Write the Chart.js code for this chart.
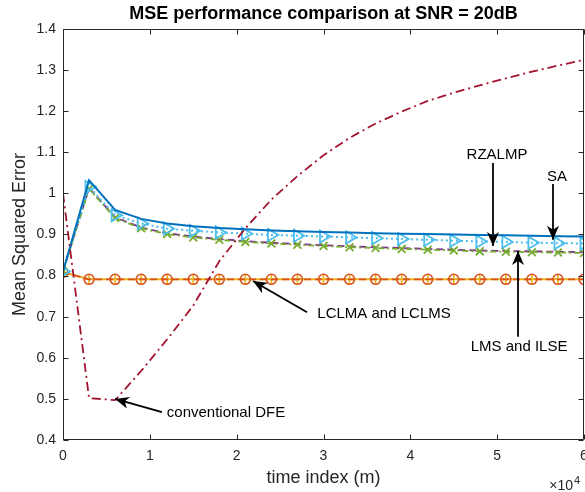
<!DOCTYPE html>
<html>
<head>
<meta charset="utf-8">
<script src="https://cdn.jsdelivr.net/npm/chart.js@4"></script>
<style>
html, body { margin: 0; padding: 0; background: #fff; }
</style>
</head>
<body>
<canvas id="mseChart" width="585" height="492"></canvas>
<script>
// time index (m), one point every 3000 samples
const timeIndex = [0, 3000, 6000, 9000, 12000, 15000, 18000, 21000, 24000, 27000, 30000,
                   33000, 36000, 39000, 42000, 45000, 48000, 51000, 54000, 57000, 60000];

// MSE curves
const sa     = [0.810, 1.032, 0.960, 0.938, 0.927, 0.920, 0.916, 0.913, 0.910, 0.908, 0.906,
                0.905, 0.903, 0.902, 0.901, 0.900, 0.899, 0.898, 0.897, 0.896, 0.895];
const rzalmp = [0.810, 1.016, 0.947, 0.927, 0.914, 0.909, 0.905, 0.902, 0.899, 0.897, 0.895,
                0.893, 0.891, 0.889, 0.887, 0.885, 0.883, 0.882, 0.880, 0.879, 0.878];
const lms    = [0.810, 1.013, 0.942, 0.917, 0.903, 0.895, 0.889, 0.884, 0.880, 0.877, 0.874,
                0.871, 0.869, 0.867, 0.865, 0.863, 0.861, 0.860, 0.859, 0.858, 0.857];
const ilse   = [0.810, 1.011, 0.940, 0.915, 0.901, 0.893, 0.887, 0.882, 0.878, 0.875, 0.872,
                0.869, 0.867, 0.865, 0.863, 0.861, 0.859, 0.858, 0.857, 0.856, 0.855];
const lclma  = [0.808, 0.791, 0.791, 0.791, 0.791, 0.791, 0.791, 0.791, 0.791, 0.791, 0.791,
                0.791, 0.791, 0.791, 0.791, 0.791, 0.791, 0.791, 0.791, 0.791, 0.791];
const lclms  = [0.808, 0.791, 0.791, 0.791, 0.791, 0.791, 0.791, 0.791, 0.791, 0.791, 0.791,
                0.791, 0.791, 0.791, 0.791, 0.791, 0.791, 0.791, 0.791, 0.791, 0.791];
const dfe    = [1.000, 0.502, 0.497, 0.568, 0.645, 0.727, 0.835, 0.915, 0.985, 1.042, 1.093,
                1.135, 1.170, 1.199, 1.225, 1.245, 1.263, 1.280, 1.296, 1.311, 1.325];

// axis tick values
const xTicks = [0, 10000, 20000, 30000, 40000, 50000, 60000];
const yTicks = [0.4, 0.5, 0.6, 0.7, 0.8, 0.9, 1.0, 1.1, 1.2, 1.3, 1.4];

// text arrows (data coordinates)
const notes = [
    { text: 'RZALMP', at: [49980, 1.093], from: [49520, 1.074], to: [49520, 0.872] },
    { text: 'SA', at: [56890, 1.040], from: [56430, 1.023], to: [56430, 0.887] },
    { text: 'LMS and ILSE', at: [52520, 0.626], from: [52400, 0.651], to: [52400, 0.860] },
    { text: 'LCLMA and LCLMS', at: [36970, 0.707], from: [28100, 0.711], to: [21880, 0.787] },
    { text: 'conventional DFE', at: [18770, 0.466], from: [11400, 0.468], to: [5990, 0.500] }
];

const FONT = "'Liberation Sans', Arial, Helvetica, sans-serif";
const AXIS = '#262626';

function pts(arr) {
    return timeIndex.map((t, i) => ({ x: t, y: arr[i] }));
}

function arrowHead(ctx, x0, y0, x1, y1) {
    const ang = Math.atan2(y1 - y0, x1 - x0);
    const len = 14, half = 6, back = 10;
    ctx.save();
    ctx.translate(x1, y1);
    ctx.rotate(ang);
    ctx.beginPath();
    ctx.moveTo(0, 0);
    ctx.lineTo(-len, -half);
    ctx.lineTo(-back, 0);
    ctx.lineTo(-len, half);
    ctx.closePath();
    ctx.fill();
    ctx.restore();
}

// box, inward ticks, x tick labels, title, annotations
const decorations = {
    id: 'decorations',
    afterDraw(chart) {
        const ctx = chart.ctx;
        const a = chart.chartArea;
        const xs = chart.scales.x, ys = chart.scales.y;
        const L = Math.round(a.left) + 0.5, R = Math.round(a.right) - 0.5;
        const T = Math.round(a.top) + 0.5, B = Math.round(a.bottom) - 0.5;
        ctx.save();
        ctx.strokeStyle = AXIS;
        ctx.lineWidth = 1;
        ctx.beginPath();
        ctx.rect(L, T, R - L, B - T);
        xTicks.forEach(v => {
            const px = Math.round(xs.getPixelForValue(v)) + 0.5;
            ctx.moveTo(px, B); ctx.lineTo(px, B - 5);
            ctx.moveTo(px, T); ctx.lineTo(px, T + 5);
        });
        yTicks.forEach(v => {
            const py = Math.round(ys.getPixelForValue(v)) + 0.5;
            ctx.moveTo(L, py); ctx.lineTo(L + 5, py);
            ctx.moveTo(R, py); ctx.lineTo(R - 5, py);
        });
        ctx.stroke();

        // x tick labels (drawn here so the last one may run off the canvas)
        ctx.fillStyle = AXIS;
        ctx.font = '14px ' + FONT;
        ctx.textAlign = 'center';
        ctx.textBaseline = 'middle';
        xTicks.forEach(v => {
            ctx.fillText(String(v / 10000), xs.getPixelForValue(v), 456);
        });

        // title
        ctx.fillStyle = '#000';
        ctx.font = 'bold 18px ' + FONT;
        ctx.fillText('MSE performance comparison at SNR = 20dB', (a.left + a.right) / 2, 14);

        // x10^4 exponent
        ctx.fillStyle = AXIS;
        ctx.textAlign = 'right';
        ctx.textBaseline = 'alphabetic';
        ctx.font = '14px ' + FONT;
        ctx.fillText('\u00d710', 573, 490);
        ctx.textAlign = 'left';
        ctx.font = '11px ' + FONT;
        ctx.fillText('4', 574, 484);

        // arrows and labels
        ctx.strokeStyle = '#000';
        ctx.fillStyle = '#000';
        ctx.lineWidth = 1.8;
        notes.forEach(n => {
            const x0 = xs.getPixelForValue(n.from[0]), y0 = ys.getPixelForValue(n.from[1]);
            const x1 = xs.getPixelForValue(n.to[0]), y1 = ys.getPixelForValue(n.to[1]);
            ctx.beginPath();
            ctx.moveTo(x0, y0);
            ctx.lineTo(x1, y1);
            ctx.stroke();
            arrowHead(ctx, x0, y0, x1, y1);
            ctx.font = '15px ' + FONT;
            ctx.textAlign = 'center';
            ctx.textBaseline = 'middle';
            ctx.fillText(n.text, xs.getPixelForValue(n.at[0]), ys.getPixelForValue(n.at[1]));
        });
        ctx.restore();
    }
};

const ctxMse = document.getElementById('mseChart').getContext('2d');
const mseChart = new Chart(ctxMse, {
    type: 'line',
    data: {
        datasets: [
            {
                label: 'conventional DFE',
                data: pts(dfe),
                borderColor: '#A2142F',
                borderWidth: 1.8,
                borderDash: [9, 4, 2, 4],
                pointRadius: 0
            },
            {
                label: 'SA',
                data: pts(sa),
                borderColor: '#0072BD',
                borderWidth: 2,
                pointRadius: 0
            },
            {
                label: 'RZALMP',
                data: pts(rzalmp),
                borderColor: '#4DBEEE',
                borderWidth: 2,
                borderDash: [2, 3],
                pointStyle: 'triangle',
                pointRotation: 90,
                pointRadius: 7,
                pointBorderWidth: 1.8,
                pointBorderColor: '#4DBEEE',
                pointBackgroundColor: 'rgba(0,0,0,0)'
            },
            {
                label: 'ILSE',
                data: pts(ilse),
                borderColor: '#77AC30',
                borderWidth: 1.8,
                borderDash: [6, 3, 2, 3],
                pointStyle: 'crossRot',
                pointRadius: 5.5,
                pointBorderWidth: 1.8,
                pointBorderColor: '#77AC30'
            },
            {
                label: 'LMS',
                data: pts(lms),
                borderColor: '#7E2F8E',
                borderWidth: 1.8,
                borderDash: [7, 4],
                pointRadius: 0
            },
            {
                label: 'LCLMA',
                data: pts(lclma),
                borderColor: '#D95319',
                borderWidth: 1.8,
                borderDash: [7, 4],
                pointStyle: 'circle',
                pointRadius: 5,
                pointBorderWidth: 1.6,
                pointBorderColor: '#D95319',
                pointBackgroundColor: 'rgba(0,0,0,0)'
            },
            {
                label: 'LCLMS',
                data: pts(lclms),
                borderColor: '#EDB120',
                borderWidth: 2,
                pointStyle: 'cross',
                pointRadius: 5,
                pointBorderWidth: 1.6,
                pointBorderColor: '#EDB120'
            }
        ]
    },
    options: {
        responsive: false,
        animation: false,
        events: [],
        layout: { autoPadding: false, padding: { top: 29, right: 1, left: 0, bottom: 0 } },
        elements: { line: { tension: 0, fill: false } },
        plugins: {
            legend: { display: false },
            tooltip: { enabled: false },
            title: { display: false }
        },
        scales: {
            x: {
                type: 'linear',
                min: 0,
                max: 60000,
                afterBuildTicks: s => { s.ticks = xTicks.map(v => ({ value: v })); },
                ticks: { display: false },
                grid: { display: false, drawTicks: false },
                border: { display: false },
                title: {
                    display: true,
                    text: 'time index (m)',
                    color: AXIS,
                    font: { family: FONT, size: 18 },
                    padding: { top: 0, bottom: 3 }
                },
                afterFit: s => { s.height = 52; s.paddingLeft = 0; s.paddingRight = 0; }
            },
            y: {
                type: 'linear',
                min: 0.4,
                max: 1.4,
                afterBuildTicks: s => { s.ticks = yTicks.map(v => ({ value: v })); },
                ticks: {
                    callback: v => String(Math.round(v * 10) / 10),
                    color: AXIS,
                    font: { family: FONT, size: 14 },
                    padding: 7,
                    autoSkip: false
                },
                grid: { display: false, drawTicks: false },
                border: { display: false },
                title: {
                    display: true,
                    text: 'Mean Squared Error',
                    color: AXIS,
                    font: { family: FONT, size: 18 },
                    padding: { top: 9, bottom: 0 }
                },
                afterFit: s => { s.width = 63; s.paddingTop = 0; s.paddingBottom = 0; }
            }
        }
    },
    plugins: [decorations]
});
</script>
</body>
</html>
